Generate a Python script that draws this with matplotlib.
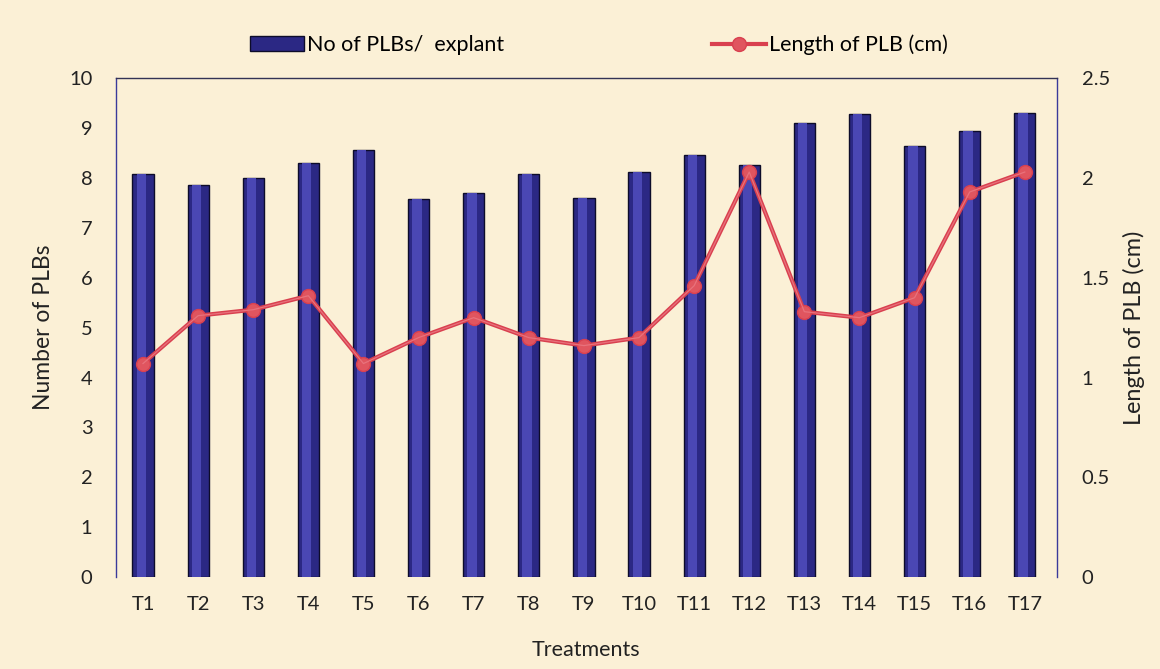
import matplotlib
matplotlib.use("Agg")
import matplotlib.pyplot as plt
import numpy as np

treatments = ["T1", "T2", "T3", "T4", "T5", "T6", "T7", "T8", "T9", "T10",
              "T11", "T12", "T13", "T14", "T15", "T16", "T17"]
plbs_per_explant = [8.08, 7.86, 8.01, 8.30, 8.57, 7.57, 7.70, 8.09, 7.60, 8.12,
                    8.46, 8.27, 9.11, 9.29, 8.64, 8.94, 9.31]
plb_length_cm = [1.07, 1.31, 1.34, 1.41, 1.07, 1.20, 1.30, 1.20, 1.16, 1.20,
                 1.46, 2.03, 1.33, 1.30, 1.40, 1.93, 2.03]

plt.rcParams['font.family'] = ['Lato', 'DejaVu Sans']

bg = '#fbf0d6'
fig = plt.figure(figsize=(11.6, 6.69), dpi=100, facecolor=bg)
ax = fig.add_axes([0.1, 0.1375, 0.811, 0.7455])
ax.set_facecolor(bg)

x = np.arange(len(treatments))
bars = ax.bar(x, plbs_per_explant, width=0.385, color='#2b2884',
              edgecolor='#0d0c2a', linewidth=1.0, zorder=2,
              label='No of PLBs/  explant')
ax.bar(x - 0.03, plbs_per_explant, width=0.17, color='#4a47b4', linewidth=0, zorder=2.1)

ax.set_xlim(-0.49, len(treatments) - 0.42)
ax.set_ylim(0, 10)
ax.set_yticks(range(0, 11))
ax.set_xticks(x)
ax.set_xticklabels(treatments)
ax.tick_params(axis='x', length=0, labelsize=14.5, colors='#222222', pad=14)
ax.tick_params(axis='y', length=0, labelsize=14.5, colors='#222222', pad=17)
ax.set_ylabel('Number of PLBs', fontsize=16.5, color='#222222', labelpad=11)
ax.set_xlabel('Treatments', fontsize=15.5, color='#222222', labelpad=19)

for side in ['left', 'right']:
    ax.spines[side].set_color('#3a3a9a')
    ax.spines[side].set_linewidth(1.0)
ax.spines['top'].set_color('#333355')
ax.spines['top'].set_linewidth(1.0)
ax.spines['bottom'].set_visible(False)

ax2 = ax.twinx()
ax2.set_ylim(0, 2.5)
ax2.set_yticks([0, 0.5, 1, 1.5, 2, 2.5])
ax2.set_yticklabels(['0', '0.5', '1', '1.5', '2', '2.5'])
ax2.tick_params(axis='y', length=0, labelsize=14.5, colors='#222222', pad=18)
line, = ax2.plot(x, plb_length_cm, color='#d9404f', linewidth=3.0,
                 marker='o', markersize=10, markerfacecolor='#e0555f',
                 markeredgecolor='#d9404f', zorder=3, label='Length of PLB (cm)')
ax2.plot(x, plb_length_cm, color='#e8727c', linewidth=0.9, zorder=3.1)
ax2.set_ylabel('Length of PLB (cm)', fontsize=16.8, color='#222222', labelpad=9)
for side in ['left', 'right', 'top', 'bottom']:
    ax2.spines[side].set_visible(False)

y_leg = 1 - 45 / 669
fig.legend([bars], ['No of PLBs/  explant'], loc='center left',
           bbox_to_anchor=(250 / 1160, y_leg), frameon=False, fontsize=15.5,
           handlelength=2.5, handletextpad=0.15, borderpad=0, borderaxespad=0)
fig.legend([line], ['Length of PLB (cm)'], loc='center left',
           bbox_to_anchor=(712 / 1160, y_leg), frameon=False, fontsize=15.5,
           handlelength=2.5, handletextpad=0.15, borderpad=0, borderaxespad=0)

fig.savefig('out.png', dpi=100, facecolor=bg)
